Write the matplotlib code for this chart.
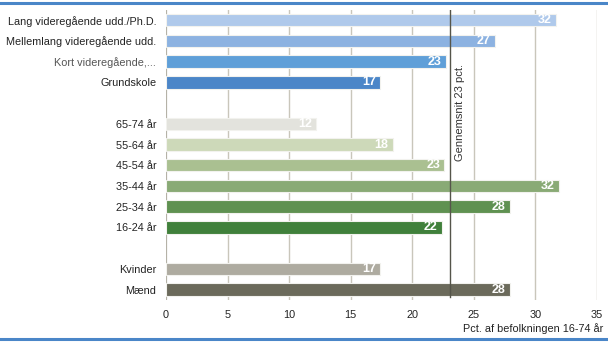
import matplotlib.pyplot as plt

plt.rcParams['font.family'] = ['Liberation Sans', 'DejaVu Sans']

# kategorier (top til bund) og andele i pct.
labels = ['Lang videregående udd./Ph.D.', 'Mellemlang videregående udd.',
          'Kort videregående,...', 'Grundskole',
          '65-74 år', '55-64 år', '45-54 år', '35-44 år', '25-34 år', '16-24 år',
          'Kvinder', 'Mænd']
values = [31.7, 26.7, 22.7, 17.4,
          12.2, 18.4, 22.6, 31.9, 27.9, 22.4,
          17.4, 27.9]
rows = [0, 1, 2, 3, 5, 6, 7, 8, 9, 10, 12, 13]
colors = ['#afc9eb', '#8cb2e1', '#5f9fd8', '#4b86c8',
          '#e3e3dd', '#cdd9b9', '#aac091', '#89aa75', '#5f9151', '#40803b',
          '#aeaba0', '#6b6a5b']
average = 23.1
xticks = [0, 5, 10, 15, 20, 25, 30, 35]

fig = plt.figure(figsize=(6.08, 3.42), dpi=100)
ax = fig.add_axes([0.273, 0.123, 0.709, 0.848])

# blå rammelinjer top og bund
fig.add_artist(plt.Line2D([0, 1], [0.991, 0.991], color='#4a86c8', lw=2.2))
fig.add_artist(plt.Line2D([0, 1], [0.009, 0.009], color='#4a86c8', lw=2.2))

for x in xticks[1:]:
    ax.axvline(x, color='#c9c6bb', lw=1.0, zorder=0)
ax.axvline(0, color='#b5b2a7', lw=1.6, zorder=0)

ax.barh(rows, values, height=0.6, color=colors, edgecolor='#f2f2ee',
        linewidth=0.8, zorder=2)

for r, v in zip(rows, values):
    ax.text(v - 0.35, r, f'{v:.0f}', ha='right', va='center', color='white',
            fontsize=9, fontweight='bold', zorder=4)

ax.axvline(average, ymin=0.01, ymax=1.0, color='#55554a', lw=1.0, zorder=3)
ax.text(average + 0.35, 2.1, f'Gennemsnit {average:.0f} pct.', rotation=90,
        ha='left', va='top', fontsize=8, color='#333333', zorder=4)

ax.set_xlim(0, 35)
ax.set_ylim(13.5, -0.5)
ax.set_xticks(xticks)
ax.set_yticks(rows)
ax.set_yticklabels(labels)
ax.tick_params(axis='both', length=0, labelsize=7.8, colors='#222222')
ax.tick_params(axis='y', pad=7)
ax.tick_params(axis='x', pad=7)
for lab in ax.get_yticklabels():
    lab.set_color('#555555' if lab.get_text().startswith('Kort') else '#222222')
for s in ax.spines.values():
    s.set_visible(False)

fig.text(0.992, 0.022, 'Pct. af befolkningen 16-74 år', ha='right', va='bottom',
         fontsize=7.8, color='#222222')

fig.savefig('out.png', dpi=100)
